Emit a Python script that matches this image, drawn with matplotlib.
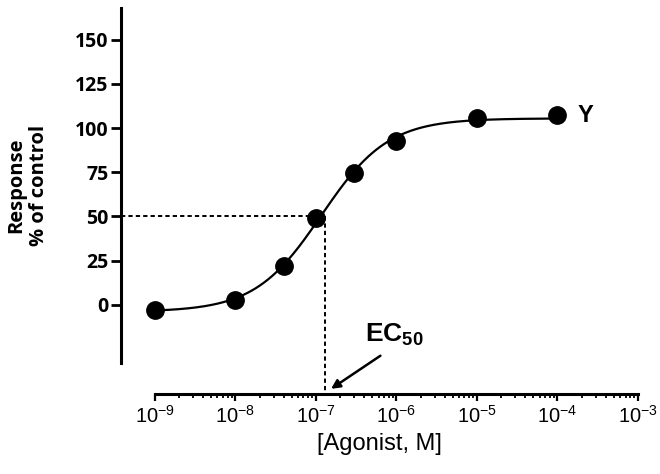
import matplotlib
matplotlib.use("Agg")
import matplotlib.pyplot as plt
import numpy as np
from matplotlib.ticker import NullFormatter

# measured dose-response points
conc = [1e-9, 1e-8, 4e-8, 1e-7, 3e-7, 1e-6, 1e-5, 1e-4]
response = [-2.8, 2.8, 22.0, 48.9, 74.4, 92.6, 105.7, 107.4]

# fitted four-parameter logistic
bottom, top, log_ec50, hill = -4.0, 105.5, -6.93, 1.05
ec50 = 1.3e-7
half_response = 50

y_ticks = [0, 25, 50, 75, 100, 125, 150]
x_decades = [-9, -8, -7, -6, -5, -4, -3]
x_ticklabels = [r"$\mathregular{10^{%d}}$" % d for d in x_decades]

plt.rcParams.update({
    "font.family": "Liberation Sans",
    "mathtext.fontset": "custom",
    "mathtext.rm": "Liberation Sans",
    "mathtext.bf": "Liberation Sans:bold",
})

fig = plt.figure(figsize=(6.6, 4.74), dpi=100)
ax = fig.add_axes([121 / 660, 1 - 363 / 474, 517 / 660, 355 / 474])

x_fit = np.logspace(-9, -4, 300)
y_fit = bottom + (top - bottom) / (1 + 10 ** ((log_ec50 - np.log10(x_fit)) * hill))
ax.plot(x_fit, y_fit, color="black", lw=1.6)
ax.plot(conc, response, "o", color="black", ms=12.5)

ax.set_xscale("log")
ax.set_xlim(10 ** -9.42, 1e-3)
ax.set_ylim(-33, 168)

# EC50 guide lines
dash = (0, (2.2, 1.6))
ax.plot([10 ** -9.42, ec50], [half_response, half_response], color="black", lw=1.4, ls=dash)
ax.plot([ec50, ec50], [half_response, -50], color="black", lw=1.4, ls=dash, clip_on=False)
ax.annotate("", xy=(10 ** -6.84, -48.5), xytext=(10 ** -6.17, -28),
            arrowprops=dict(arrowstyle="-|>", lw=1.8, color="black", mutation_scale=13),
            annotation_clip=False)
ax.text(10 ** -6.39, -21, r"$\mathbf{EC_{50}}$", fontsize=19, va="baseline", ha="left")
ax.text(1.8e-4, 107, "Y", fontsize=17, fontweight="bold", va="center", ha="left")

# axes styling
for s in ("top", "right"):
    ax.spines[s].set_visible(False)
ax.spines["left"].set_linewidth(2.2)
ax.spines["bottom"].set_linewidth(2.2)
ax.spines["bottom"].set_position(("outward", 22.3))
ax.spines["bottom"].set_bounds(1e-9, 1e-3)

ax.set_yticks(y_ticks)
ax.set_yticklabels([str(v) for v in y_ticks], fontfamily="Open Sans",
                   fontweight="bold", fontsize=14)
ax.tick_params(axis="y", length=7, width=2, pad=2)

ax.set_xticks([10.0 ** d for d in x_decades])
ax.set_xticklabels(x_ticklabels, fontsize=14.5)
minor = [m * 10.0 ** d for d in x_decades[:-1] for m in range(2, 10)]
ax.set_xticks(minor, minor=True)
ax.xaxis.set_minor_formatter(NullFormatter())
ax.tick_params(axis="x", which="major", length=5, width=1.6, pad=3)
ax.tick_params(axis="x", which="minor", length=2.8, width=1.3)

ax.set_ylabel("Response\n% of control", fontfamily="Open Sans", fontweight="bold",
              fontsize=14.5, linespacing=1.2)
ax.yaxis.set_label_coords(-0.18, 0.5)
ax.yaxis.label.set_va("center")
ax.set_xlabel("[Agonist, M]", fontsize=17)
ax.xaxis.set_label_coords(0.5, -0.228)
ax.xaxis.label.set_va("center")

fig.savefig("out.png", dpi=100)
